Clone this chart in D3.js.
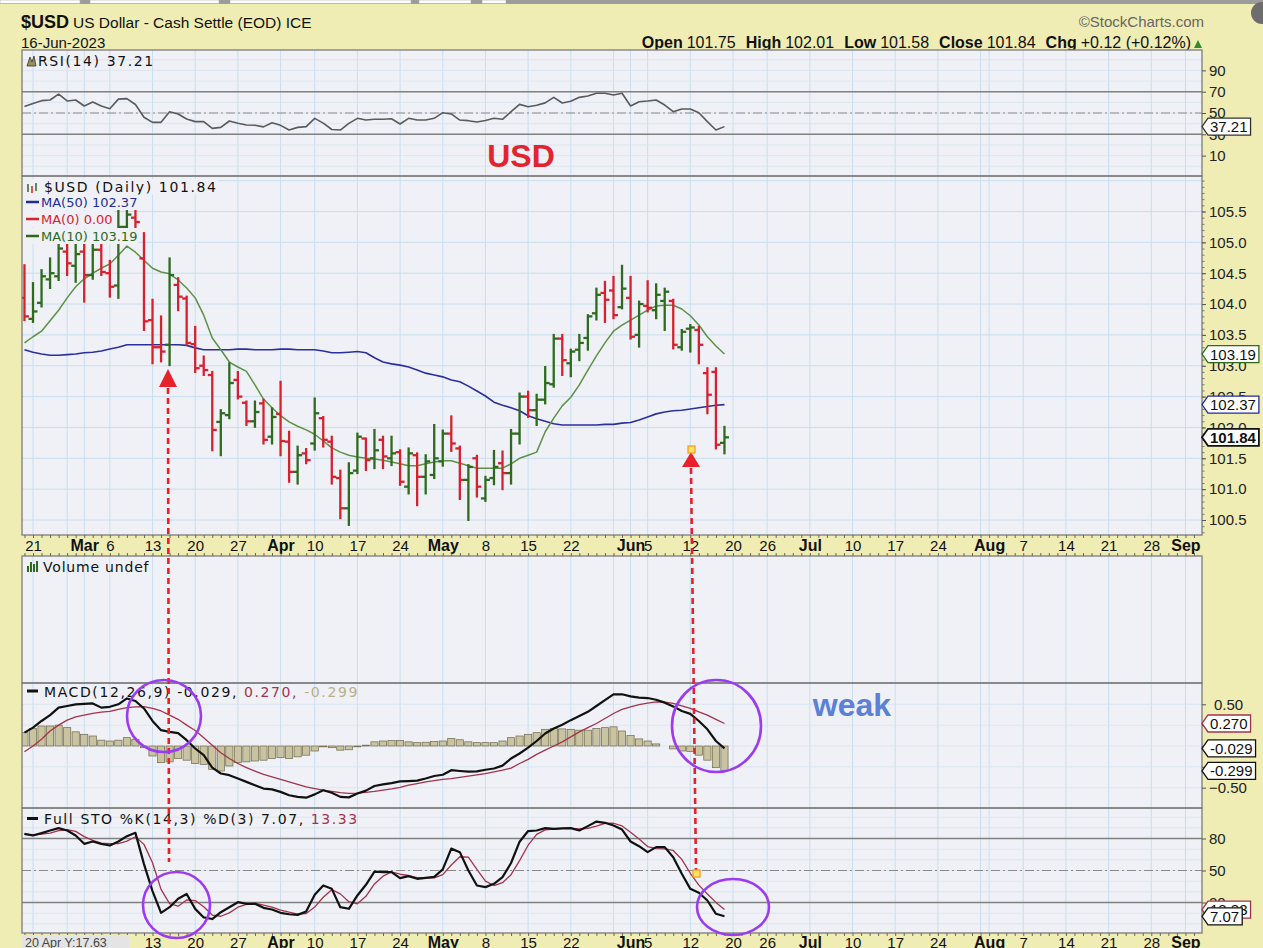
<!DOCTYPE html>
<html>
<head>
<meta charset="utf-8">
<title>$USD US Dollar - Cash Settle</title>
<script src="https://cdn.jsdelivr.net/npm/d3@7"></script>
<style>
  body { margin: 0; background: #efedb3; overflow: hidden; }
  svg { display: block; }
</style>
</head>
<body>
<script>
// ---- values (first entry = 17 Feb 2023, last = 16 Jun 2023) ----
const firstDay = "2023-02-17";
const lastDay = "2023-09-06";
const holidays = ["2023-02-20", "2023-04-07", "2023-05-29", "2023-06-19"];

const opens = [104.10,103.76,104.02,104.40,104.45,104.85,104.62,104.85,104.47,104.88,104.50,104.30,105.25,105.40,
  104.74,103.74,103.30,103.34,104.31,104.09,103.35,103.00,102.85,102.09,
  102.20,102.77,102.40,102.10,102.39,101.85,102.22,101.77,101.28,101.58,
  101.74,102.15,101.77,101.18,100.69,101.30,101.82,101.50,101.80,101.50,
  101.60,101.04,101.55,101.20,101.23,101.45,101.90,101.66,101.15,101.50,
  100.85,101.18,101.42,101.26,101.90,102.50,102.28,102.45,102.70,103.44,
  103.04,103.26,103.45,103.85,104.18,104.22,103.95,104.10,103.50,103.97,
  103.90,104.05,104.05,103.30,103.60,103.58,102.88,102.90,101.75];
const highs = [104.63,104.34,104.55,104.74,105.15,105.10,105.05,105.05,105.10,105.00,104.70,105.55,105.65,105.55,
  105.15,104.07,103.80,104.74,104.42,104.12,103.63,103.15,102.90,102.28,
  103.04,102.90,102.42,102.42,102.45,102.31,102.74,101.93,101.69,101.65,
  102.47,102.17,101.85,101.30,101.42,101.90,101.82,101.96,101.85,101.85,
  101.63,101.66,101.58,101.55,102.04,101.95,102.18,101.69,101.39,101.54,
  101.20,101.62,101.61,101.96,102.55,102.58,102.53,102.98,103.50,103.50,
  103.26,103.50,103.82,104.25,104.36,104.44,104.62,104.44,104.04,104.37,
  104.32,104.25,104.07,103.58,103.66,103.63,102.96,102.96,102.01];
const lows = [103.74,103.71,103.96,104.26,104.39,104.47,104.36,104.04,104.41,104.47,104.12,104.10,105.20,105.20,
  103.58,103.04,103.07,103.01,103.90,103.34,102.90,102.85,101.63,101.55,
  102.15,102.47,102.04,102.01,101.74,101.74,101.55,101.12,101.09,101.42,
  101.64,101.69,101.09,100.53,100.42,101.26,101.31,101.34,101.34,101.39,
  101.07,100.93,100.74,100.93,101.18,101.38,101.62,100.84,100.50,100.88,
  100.81,101.08,101.00,101.09,101.74,102.17,102.04,102.39,102.66,102.85,
  102.83,103.09,103.26,103.75,103.71,103.77,103.93,103.44,103.31,103.88,
  103.77,103.58,103.28,103.26,103.23,103.04,102.23,101.66,101.58];
const closes = [103.80,103.88,104.45,104.50,104.90,104.66,104.81,104.47,104.88,104.52,104.28,105.25,105.45,105.33,
  103.72,103.30,103.23,104.47,104.12,103.37,102.96,102.93,101.96,102.23,
  102.72,102.50,102.10,102.25,101.80,102.17,101.78,101.28,101.55,101.47,
  102.23,101.80,101.20,100.69,101.26,101.85,101.47,101.63,101.53,101.58,
  101.12,101.58,101.20,101.45,101.50,101.90,101.74,101.15,101.36,101.04,
  101.15,101.36,101.26,101.90,102.50,102.28,102.45,102.72,103.44,103.09,
  103.23,103.37,103.80,104.15,104.07,103.82,104.25,103.47,104.00,103.94,
  104.15,104.20,103.34,103.55,103.62,103.34,102.53,101.72,101.84];

const ma50 = [103.26,103.22,103.19,103.17,103.17,103.18,103.19,103.21,103.22,103.24,103.27,103.30,103.34,103.34,
  103.34,103.34,103.34,103.34,103.34,103.33,103.29,103.26,103.26,103.26,
  103.26,103.27,103.27,103.26,103.26,103.26,103.27,103.27,103.26,103.26,
  103.26,103.24,103.21,103.21,103.22,103.23,103.21,103.13,103.06,103.03,
  103.01,102.98,102.93,102.88,102.85,102.82,102.77,102.74,102.67,102.59,
  102.51,102.41,102.36,102.32,102.27,102.19,102.14,102.10,102.06,102.04,
  102.04,102.04,102.04,102.04,102.05,102.05,102.07,102.08,102.12,102.17,
  102.22,102.25,102.27,102.28,102.30,102.32,102.34,102.36,102.37];
const ma10 = [103.37,103.47,103.56,103.73,103.90,104.10,104.28,104.41,104.50,104.58,104.65,104.79,104.94,104.84,
  104.71,104.58,104.52,104.49,104.39,104.26,104.10,103.82,103.45,103.26,
  103.06,102.98,102.91,102.69,102.46,102.32,102.19,102.09,102.02,101.96,
  101.89,101.78,101.67,101.60,101.55,101.52,101.50,101.49,101.47,101.44,
  101.41,101.38,101.38,101.41,101.44,101.46,101.46,101.42,101.38,101.34,
  101.34,101.34,101.34,101.41,101.50,101.55,101.60,101.93,102.15,102.35,
  102.49,102.69,102.93,103.16,103.37,103.56,103.66,103.74,103.82,103.90,
  103.97,103.98,103.98,103.92,103.81,103.66,103.47,103.32,103.19];

const rsi = [56,59,61.6,62.2,67.8,61.3,62.2,56.6,60.3,56.6,54,63,63.5,58,
  46,41.2,41.2,51.2,49,44.4,41.9,41.9,35.6,36.5,
  42.5,40.3,38.7,38.5,37,40.9,38.4,34.0,36.5,37.2,
  45.0,40.5,34.5,34.0,40.3,45.0,43.4,44.1,44.1,44.6,
  39.7,45.0,43.4,43.4,45.0,50.3,49.1,43.4,42.8,41.5,
  43.0,45.0,44.1,51.2,58.1,55.9,57.2,59.5,64.7,59.4,
  61.0,64.7,66.0,68.5,68.5,66.9,68.5,56.6,60.6,61.3,
  62.2,57.5,51.2,53.8,53.8,50.3,41.9,34.0,37.21];

const macd = [0.16,0.22,0.30,0.37,0.46,0.48,0.50,0.505,0.51,0.46,0.47,0.50,0.57,0.54,
  0.45,0.30,0.19,0.17,0.155,0.07,-0.03,-0.11,-0.26,-0.33,
  -0.35,-0.39,-0.43,-0.47,-0.51,-0.52,-0.55,-0.59,-0.61,-0.62,
  -0.58,-0.53,-0.56,-0.61,-0.616,-0.57,-0.535,-0.48,-0.46,-0.445,
  -0.425,-0.42,-0.415,-0.39,-0.36,-0.345,-0.29,-0.30,-0.308,-0.305,
  -0.285,-0.27,-0.235,-0.15,-0.09,-0.02,0.06,0.15,0.21,0.255,
  0.31,0.36,0.41,0.48,0.55,0.62,0.62,0.595,0.58,0.575,
  0.555,0.52,0.475,0.42,0.385,0.30,0.20,0.06,-0.029];
const signal = [-0.07,0.0,0.08,0.18,0.25,0.31,0.35,0.37,0.39,0.405,0.415,0.44,0.46,0.468,
  0.472,0.45,0.42,0.37,0.32,0.25,0.185,0.10,0.01,-0.08,
  -0.15,-0.21,-0.26,-0.30,-0.34,-0.37,-0.40,-0.43,-0.46,-0.49,
  -0.51,-0.53,-0.545,-0.56,-0.568,-0.565,-0.556,-0.545,-0.53,-0.515,
  -0.495,-0.47,-0.45,-0.43,-0.415,-0.40,-0.39,-0.375,-0.36,-0.345,
  -0.33,-0.31,-0.29,-0.265,-0.21,-0.16,-0.10,-0.05,0.0,0.05,
  0.11,0.17,0.22,0.27,0.33,0.39,0.44,0.47,0.495,0.515,
  0.53,0.525,0.51,0.48,0.45,0.41,0.37,0.32,0.270];
const hist = [0.16,0.21,0.24,0.24,0.25,0.22,0.17,0.14,0.12,0.07,0.06,0.07,0.10,0.08,
  -0.02,-0.12,-0.20,-0.19,-0.15,-0.17,-0.21,-0.22,-0.28,-0.30,
  -0.24,-0.20,-0.19,-0.18,-0.17,-0.15,-0.14,-0.15,-0.13,-0.11,
  -0.06,-0.01,-0.02,-0.05,-0.045,-0.01,0.01,0.05,0.06,0.065,
  0.065,0.05,0.04,0.045,0.055,0.06,0.09,0.075,0.05,0.04,
  0.04,0.04,0.06,0.10,0.12,0.14,0.16,0.20,0.21,0.205,
  0.20,0.19,0.19,0.21,0.22,0.23,0.18,0.125,0.085,0.06,
  0.025,0.0,-0.035,-0.06,-0.065,-0.11,-0.17,-0.26,-0.299];

const stoK = [84.4,82.8,85.0,87.5,89.7,87.5,82.8,75,77.2,75,73.4,77.2,82.2,85.3,
  56,30.7,10.3,15.6,23.5,28,14,6,4.5,10.9,
  15.6,20.3,18.8,18.8,15,13.4,10.3,9,8.4,11.6,
  27.2,35.9,32.8,15.6,14.1,26.6,36.6,49,48.4,48.4,
  42.8,44.7,42.2,43.1,44.1,51,70.5,67.2,50,35.9,
  34.4,37.5,43.8,57,77,87,87.5,89.7,89.1,89.5,
  89.7,87.5,91.6,95.9,94.7,92.2,88.4,77.2,72.8,67.2,
  71.9,71.9,62.5,46.9,32.8,29.1,21.9,9.4,7.07];
const stoD = [84,83.5,84.1,85.1,87.4,88.2,86.7,81.8,78.3,75.7,75.2,75.2,77.6,81.6,
  74.5,57.3,32.3,18.9,16.5,22.4,21.8,16,8.2,7.1,
  10.3,15.6,18.2,19.3,17.5,15.7,12.9,10.9,9.2,9.7,
  15.7,24.9,32,28.1,20.8,18.8,25.8,37.4,44.7,48.6,
  46.5,45.3,43.2,43.3,43.1,46.1,55.2,62.9,62.6,51,
  40.1,35.9,38.6,46.1,59.3,73.7,83.8,88.1,88.8,89.4,
  89.4,88.9,89.6,91.7,94.1,94.3,91.8,85.9,79.5,72.4,
  70.6,70.3,68.8,60.4,47.4,36.3,27.9,20.1,13.33];

const tickDates = ["2023-02-21","2023-03-01","2023-03-06","2023-03-13","2023-03-20","2023-03-27","2023-04-03",
  "2023-04-10","2023-04-17","2023-04-24","2023-05-01","2023-05-08","2023-05-15","2023-05-22","2023-06-01",
  "2023-06-05","2023-06-12","2023-06-20","2023-06-26","2023-07-03","2023-07-10","2023-07-17","2023-07-24",
  "2023-08-01","2023-08-07","2023-08-14","2023-08-21","2023-08-28","2023-09-01"];
const tickLabels = ["21","Mar","6","13","20","27","Apr","10","17","24","May","8","15","22","Jun",
  "5","12","20","26","Jul","10","17","24","Aug","7","14","21","28","Sep"];
const extraGridDates = ["2023-02-27","2023-05-30","2023-07-31"];

const rsiTicks = [90, 70, 50, 30, 10];
const priceTicks = [100.5, 101.0, 101.5, 102.0, 102.5, 103.0, 103.5, 104.0, 104.5, 105.0, 105.5];
const macdTicks = [0.5, 0.25, 0, -0.25, -0.5];
const stoTicks = [80, 50, 20];

// ---- layout ----
const W = 1263, H = 948, L = 22, R = 1202;
const PANEL_BG = "#eff1f6", GRID = "#c9def0", BORDER = "#7c7c7c";
const AX = "'Liberation Sans', Arial, sans-serif";
const LG = "'DejaVu Sans', Verdana, sans-serif";
const UP = "#2e6b1e", DOWN = "#d6222e", MAROON = "#a3334c";

const tradingDays = [];
for (let d = new Date(firstDay + "T12:00:00Z"); d <= new Date(lastDay + "T12:00:00Z"); d.setUTCDate(d.getUTCDate() + 1)) {
  const s = d.toISOString().slice(0, 10), wd = d.getUTCDay();
  if (wd > 0 && wd < 6 && !holidays.includes(s)) tradingDays.push(s);
}
const pos = s => tradingDays.indexOf(s);
const N = closes.length;
const idx = d3.range(N);

const x = d3.scaleLinear().domain([1, 83]).range([33, 733]);
const yRsi = d3.scaleLinear().domain([10, 90]).range([155.6, 70.4]);
const yP = d3.scaleLinear().domain([100.5, 105.5]).range([520, 211.5]);
const yM = d3.scaleLinear().domain([-0.5, 0.5]).range([787.7, 704.3]);
const yS = d3.scaleLinear().domain([20, 80]).range([902.5, 838.5]);

const svg = d3.select("body").append("svg").attr("width", W).attr("height", H);

// browser strip at the very top
svg.append("rect").attr("x", 0).attr("y", 0).attr("width", W).attr("height", 4).attr("fill", "#9c9c9c");
[[0, 80], [90, 219], [230, 411], [419, 471], [482, 506]].forEach(([a, b]) =>
  svg.append("rect").attr("x", a).attr("y", 0).attr("width", b - a).attr("height", 3.5)
    .attr("fill", "#fff").attr("stroke", "#aaa").attr("stroke-width", 0.6));
svg.append("circle").attr("cx", 1262).attr("cy", 13).attr("r", 11).attr("fill", "#6d6d6d");

// ---- header ----
const hdr = svg.append("text").attr("x", L - 1).attr("y", 28).attr("font-family", AX).attr("fill", "#111");
hdr.append("tspan").attr("font-weight", "bold").attr("font-size", 18).text("$USD");
hdr.append("tspan").attr("font-size", 15.5).attr("dx", 4).text("US Dollar - Cash Settle (EOD) ICE");
svg.append("text").attr("x", L - 1).attr("y", 48).attr("font-family", AX).attr("font-size", 15).attr("fill", "#111").text("16-Jun-2023");
svg.append("text").attr("x", 1204).attr("y", 27).attr("text-anchor", "end").attr("font-family", AX)
  .attr("font-size", 15).attr("fill", "#666").text("\u00a9StockCharts.com");

const quote = [["Open", "101.75"], ["High", "102.01"], ["Low", "101.58"], ["Close", "101.84"], ["Chg", "+0.12 (+0.12%)"]];
const qt = svg.append("text").attr("x", 1191).attr("y", 48).attr("text-anchor", "end")
  .attr("font-family", AX).attr("font-size", 16).attr("fill", "#111");
quote.forEach(([k, v], i) => {
  qt.append("tspan").attr("font-weight", "bold").attr("dx", i ? 10 : 0).text(k);
  qt.append("tspan").attr("dx", 4).text(v);
});
svg.append("path").attr("d", "M1194,48 L1202,48 L1198,40 Z").attr("fill", "#2e8b2e");

// ---- panels ----
const gridDates = tickDates.concat(extraGridDates);
function panel(name, top, bottom) {
  svg.append("rect").attr("x", L).attr("y", top).attr("width", R - L).attr("height", bottom - top).attr("fill", PANEL_BG);
  svg.append("clipPath").attr("id", "clip-" + name).append("rect")
    .attr("x", L).attr("y", top).attr("width", R - L).attr("height", bottom - top);
  const g = svg.append("g").attr("clip-path", `url(#clip-${name})`);
  g.append("g").selectAll("line").data(gridDates).join("line")
    .attr("x1", d => x(pos(d))).attr("x2", d => x(pos(d)))
    .attr("y1", top).attr("y2", bottom).attr("stroke", GRID).attr("stroke-width", 1);
  return g;
}
function hGrid(g, scale, values, color, width, dash) {
  g.append("g").selectAll("line").data(values).join("line")
    .attr("x1", L).attr("x2", R).attr("y1", d => scale(d)).attr("y2", d => scale(d))
    .attr("stroke", color).attr("stroke-width", width).attr("stroke-dasharray", dash || null);
}
function lineOf(g, scale, values, color, width) {
  g.append("path").datum(values)
    .attr("d", d3.line().x((d, i) => x(i)).y(d => scale(d)))
    .attr("fill", "none").attr("stroke", color).attr("stroke-width", width).attr("stroke-linejoin", "round");
}
function rightAxis(scale, values, fmt, size) {
  const a = svg.append("g").attr("transform", `translate(${R},0)`)
    .call(d3.axisRight(scale).tickValues(values).tickFormat(fmt).tickSize(size || 4).tickPadding(3));
  a.select(".domain").remove();
  a.selectAll("text").attr("font-size", 15).attr("font-family", AX).attr("fill", "#222");
  a.selectAll("line").attr("stroke", "#555");
  return a;
}
function tag(y, text, color, bold) {
  const g = svg.append("g");
  const t = g.append("text").attr("x", R + 8).attr("y", y + 5.5).attr("font-family", AX)
    .attr("font-size", 15).attr("font-weight", bold ? "bold" : null).attr("fill", "#111").text(text);
  const w = t.node().getComputedTextLength();
  g.insert("path", "text")
    .attr("d", `M${R},${y} L${R + 6},${y - 8.5} L${R + 11 + w},${y - 8.5} L${R + 11 + w},${y + 8.5} L${R + 6},${y + 8.5} Z`)
    .attr("fill", "#fff").attr("stroke", color).attr("stroke-width", bold ? 1.8 : 1.3);
}
function legend(xp, y, parts, size, spacing) {
  const t = svg.append("text").attr("x", xp).attr("y", y).attr("font-family", LG)
    .attr("font-size", size).attr("letter-spacing", spacing);
  parts.forEach(([s, c]) => t.append("tspan").attr("fill", c).text(s));
  return t;
}

// RSI panel
const gR = panel("rsi", 50, 176);
hGrid(gR, yRsi, d3.range(0, 110, 10), "#d6e3ef", 0.8);
hGrid(gR, yRsi, [70, 30], "#808080", 1.4);
hGrid(gR, yRsi, [50], "#8a8a8a", 1.2, "9,3,2,3");
lineOf(gR, yRsi, rsi, "#5a5a5a", 1.6);
svg.append("path").attr("d", "M27,66 L30,57 L32,62 L34,56 L36,66 Z").attr("fill", "#9a8f5a").attr("stroke", "#333").attr("stroke-width", 0.8);
legend(38, 66, [["RSI(14) 37.21", "#111"]], 14, 1.6);

// price panel
const gP = panel("price", 176, 535);
hGrid(gP, yP, d3.range(201, 213).map(v => v / 2), GRID, 1);
lineOf(gP, yP, ma50, "#2b2f9e", 1.6);
lineOf(gP, yP, ma10, "#5d9147", 1.5);
const bars = gP.append("g").selectAll("g").data(idx).join("g")
  .attr("stroke", i => (i === 0 || closes[i] < closes[i - 1]) ? DOWN : UP)
  .attr("stroke-width", 2.3);
bars.append("line").attr("x1", i => x(i)).attr("x2", i => x(i)).attr("y1", i => yP(highs[i]) - 1).attr("y2", i => yP(lows[i]) + 1);
bars.append("line").attr("x1", i => x(i) - 4.5).attr("x2", i => x(i)).attr("y1", i => yP(opens[i])).attr("y2", i => yP(opens[i]));
bars.append("line").attr("x1", i => x(i)).attr("x2", i => x(i) + 4.5).attr("y1", i => yP(closes[i])).attr("y2", i => yP(closes[i]));

// price legend rows mask the bars underneath
const pRows = [
  [44, 192, [["$USD (Daily) 101.84", "#111"]], 14, 1.6, null],
  [41, 207, [["MA(50) 102.37", "#1f2d9c"]], 13, 0, "#1f2d9c"],
  [41, 224, [["MA(0) 0.00", "#d8232a"]], 13, 0, "#d8232a"],
  [41, 241, [["MA(10) 103.19", "#2e6a1e"]], 13, 0, "#2e6a1e"]
];
pRows.forEach(([xp, y, parts, size, sp, dash]) => {
  const t = legend(xp, y, parts, size, sp);
  const b = t.node().getBBox();
  svg.insert("rect", () => t.node()).attr("x", 23).attr("y", y - 13).attr("width", b.x + b.width - 23 + 1)
    .attr("height", 16).attr("fill", PANEL_BG);
  if (dash) svg.append("line").attr("x1", 26).attr("x2", 39).attr("y1", y - 5).attr("y2", y - 5).attr("stroke", dash).attr("stroke-width", 2.5);
});
[[28, 184, 192, UP], [32, 186, 193, DOWN], [36, 183, 191, UP]].forEach(([bx, a, b, c]) =>
  svg.append("line").attr("x1", bx).attr("x2", bx).attr("y1", a).attr("y2", b).attr("stroke", c).attr("stroke-width", 1.5));

// volume panel (empty)
panel("vol", 556, 683);
[[28, 566, 572], [31, 562, 572], [34, 564, 572], [37, 561, 572]].forEach(([bx, a, b]) =>
  svg.append("line").attr("x1", bx).attr("x2", bx).attr("y1", a).attr("y2", b).attr("stroke", UP).attr("stroke-width", 2));
legend(43, 572, [["Volume undef", "#111"]], 14, 0.8);

// MACD panel
const gM = panel("macd", 683, 808);
hGrid(gM, yM, [-0.75, -0.5, -0.25, 0, 0.25, 0.5, 0.75], "#d6e3ef", 0.8);
gM.append("g").selectAll("rect").data(idx).join("rect")
  .attr("x", i => x(i) - 3.6).attr("width", 7.2)
  .attr("y", i => Math.min(yM(0), yM(hist[i]))).attr("height", i => Math.abs(yM(hist[i]) - yM(0)))
  .attr("fill", "#c9c39f").attr("stroke", "#6d6850").attr("stroke-width", 0.7);
lineOf(gM, yM, signal, MAROON, 1.3);
lineOf(gM, yM, macd, "#111", 2.2);
svg.append("line").attr("x1", 27).attr("x2", 38).attr("y1", 691).attr("y2", 691).attr("stroke", "#111").attr("stroke-width", 3);
legend(44, 697, [["MACD(12,26,9) -0.029,", "#111"], [" 0.270,", MAROON], [" -0.299", "#b8b08a"]], 14, 1.6);

// STO panel
const gS = panel("sto", 808, 933);
hGrid(gS, yS, d3.range(0, 110, 10), "#d6e3ef", 0.8);
hGrid(gS, yS, [80, 20], "#808080", 1.4);
hGrid(gS, yS, [50], "#8a8a8a", 1.2, "9,3,2,3");
lineOf(gS, yS, stoD, MAROON, 1.3);
lineOf(gS, yS, stoK, "#111", 2.2);
svg.append("line").attr("x1", 27).attr("x2", 38).attr("y1", 818.5).attr("y2", 818.5).attr("stroke", "#111").attr("stroke-width", 3);
legend(44, 824, [["Full STO %K(14,3) %D(3) 7.07,", "#111"], [" 13.33", MAROON]], 14, 1.6);

// panel borders
[[50, 176], [176, 535], [556, 683], [683, 808], [808, 933]].forEach(([a, b]) =>
  svg.append("rect").attr("x", L).attr("y", a).attr("width", R - L).attr("height", b - a)
    .attr("fill", "none").attr("stroke", BORDER).attr("stroke-width", 1.3));

// ---- right axes ----
rightAxis(yRsi, rsiTicks, d3.format("d"));
svg.append("g").attr("transform", `translate(${R},0)`)
  .call(d3.axisRight(yP).tickValues(d3.range(1003, 1061).map(v => v / 10)).tickFormat("").tickSize(2.5))
  .call(a => a.select(".domain").remove()).selectAll("line").attr("stroke", "#777");
rightAxis(yP, priceTicks, d3.format(".1f"));
const mAx = rightAxis(yM, macdTicks, d3.format(".2f"));
mAx.selectAll("text").attr("dx", d => d >= 0 ? 5 : 0);
rightAxis(yS, stoTicks, d3.format("d"));

tag(yRsi(37.21), "37.21", "#333");
tag(yP(103.19), "103.19", "#2e6a1e");
tag(yP(102.37), "102.37", "#1f2d9c");
tag(yP(101.84), "101.84", "#111", true);
tag(yM(0.270), "0.270", MAROON);
tag(yM(-0.029), "-0.029", "#111");
tag(yM(-0.299), "-0.299", "#111");
tag(yS(13.33), "13.33", MAROON);
tag(yS(7.07), "7.07", "#111");

// ---- date axes ----
function dateAxis(y, clipTop, minX) {
  const shown = tickDates.map((d, i) => i).filter(i => x(pos(tickDates[i])) > minX);
  const a = svg.append("g").attr("transform", `translate(0,${y})`)
    .call(d3.axisBottom(x).tickValues(shown.map(i => pos(tickDates[i])))
      .tickFormat((d, k) => tickLabels[shown[k]]).tickSize(0).tickPadding(0));
  a.select(".domain").remove();
  a.selectAll("text").attr("font-family", AX).attr("fill", "#111").attr("dy", 0)
    .attr("font-size", (d, k) => /[A-Z]/.test(tickLabels[shown[k]]) ? 16 : 15)
    .attr("font-weight", (d, k) => /[A-Z]/.test(tickLabels[shown[k]]) ? "bold" : null);
  const m = svg.append("g").attr("transform", `translate(0,${clipTop})`)
    .call(d3.axisBottom(x).tickValues(d3.range(0, tradingDays.length)).tickFormat("").tickSize(3));
  m.select(".domain").remove();
  m.selectAll("line").attr("stroke", "#666");
  m.selectAll(".tick").filter(d => x(d) < L || x(d) > R).remove();
  return a;
}
dateAxis(551, 535, 0);
const bMinor = svg.append("g").attr("transform", "translate(0,556)")
  .call(d3.axisTop(x).tickValues(d3.range(0, tradingDays.length)).tickFormat("").tickSize(3));
bMinor.select(".domain").remove();
bMinor.selectAll("line").attr("stroke", "#666");
bMinor.selectAll(".tick").filter(d => x(d) < L || x(d) > R).remove();
// bottom axis: the first labels sit under the cursor readout box
dateAxis(948, 933, 135);

// cursor readout at the bottom left
svg.append("rect").attr("x", 22).attr("y", 935).attr("width", 107).attr("height", 14).attr("fill", "#e4e4e4");
svg.append("text").attr("x", 25).attr("y", 947).attr("font-family", AX).attr("font-size", 12.5).attr("fill", "#444").text("20 Apr Y:17.63");

// ---- annotations ----
const RED = "#e8202a";
svg.append("path").attr("d", "M168,369 L177,387 L159,387 Z").attr("fill", RED);
svg.append("line").attr("x1", 168).attr("x2", 169).attr("y1", 388).attr("y2", 862)
  .attr("stroke", RED).attr("stroke-width", 2.6).attr("stroke-dasharray", "6,4");
svg.append("path").attr("d", "M691,452 L700,467 L682,467 Z").attr("fill", RED);
svg.append("line").attr("x1", 691).attr("x2", 696).attr("y1", 468).attr("y2", 871)
  .attr("stroke", RED).attr("stroke-width", 2.6).attr("stroke-dasharray", "6,4");
[[688, 446], [693, 870]].forEach(([a, b]) =>
  svg.append("rect").attr("x", a).attr("y", b).attr("width", 7).attr("height", 7)
    .attr("fill", "#ffe45c").attr("stroke", "#f09a20").attr("stroke-width", 1.2));

[[164, 716, 37, 36], [716.5, 726, 44.5, 46], [176.5, 905, 33.5, 33], [733, 907, 36, 28]].forEach(([cx, cy, rx, ry]) =>
  svg.append("ellipse").attr("cx", cx).attr("cy", cy).attr("rx", rx).attr("ry", ry)
    .attr("fill", "none").attr("stroke", "#9b3cf2").attr("stroke-width", 2.6));

svg.append("text").attr("x", 521).attr("y", 167).attr("text-anchor", "middle").attr("font-family", AX)
  .attr("font-weight", "bold").attr("font-size", 32).attr("fill", "#e3242f").text("USD");
svg.append("text").attr("x", 852).attr("y", 716).attr("text-anchor", "middle").attr("font-family", AX)
  .attr("font-weight", "bold").attr("font-size", 32).attr("fill", "#5b80d8").text("weak");
</script>
</body>
</html>
